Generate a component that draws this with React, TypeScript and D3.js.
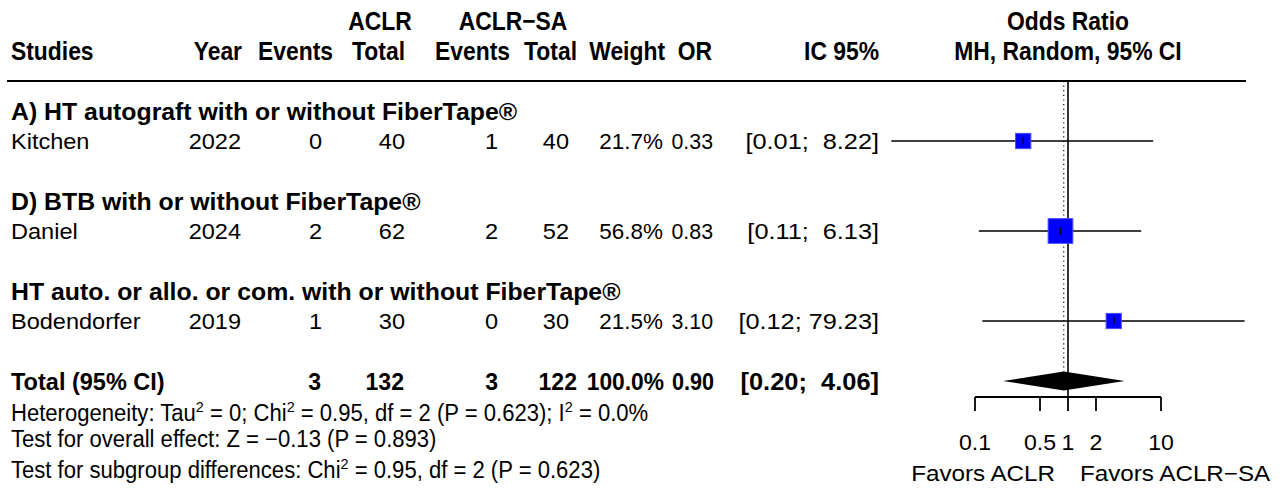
import * as d3 from "d3"

// ---- data ----
const groupLabels = [
  "A) HT autograft with or without FiberTape®",
  "D) BTB with or without FiberTape®",
  "HT auto. or allo. or com. with or without FiberTape®",
]
const studies = ["Kitchen", "Daniel", "Bodendorfer"]
const years = [2022, 2024, 2019]
const eventsACLR = [0, 2, 1]
const totalACLR = [40, 62, 30]
const eventsSA = [1, 2, 0]
const totalSA = [40, 52, 30]
const weights = [21.7, 56.8, 21.5]
const oddsRatios = [0.33, 0.83, 3.1]
const ciLower = [0.0126, 0.11, 0.12]
const ciUpper = [8.22, 6.13, 79.23]

const pooledCounts = [3, 132, 3, 122] // events, total, events, total
const pooledOR = [0.2, 0.9, 4.06] // lower, estimate, upper
const axisTicks = [0.1, 0.5, 1, 2, 10]
const axisLabels = ["Favors ACLR", "Favors ACLR−SA"]

// text segments, second item = superscript
const statLines: [string, boolean][][] = [
  [
    ["Heterogeneity: Tau", false], ["2", true], [" = 0; Chi", false], ["2", true],
    [" = 0.95, df = 2 (P = 0.623); I", false], ["2", true], [" = 0.0%", false],
  ],
  [["Test for overall effect: Z = −0.13 (P = 0.893)", false]],
  [["Test for subgroup differences: Chi", false], ["2", true], [" = 0.95, df = 2 (P = 0.623)", false]],
]

const FONT = "'Liberation Sans', Arial, sans-serif"
const W = 1287
const H = 488

function Txt({ x, y, children, anchor = "start", size = 21, bold = false, sx = 1 }: any) {
  return (
    <text
      transform={`translate(${x},${y}) scale(${sx},1)`}
      textAnchor={anchor}
      fontSize={size}
      fontWeight={bold ? 700 : 400}
      fontFamily={FONT}
      fill="#000"
      style={{ whiteSpace: "pre" }}
    >
      {children}
    </text>
  )
}

const fmtCI = (lo: number, hi: number) => `[${lo.toFixed(2)}; ${hi.toFixed(2).padStart(5, " ")}]`

export default function App() {
  const x = d3.scaleLog().domain([0.1, 10]).range([975, 1161])
  const rowY = d3.scaleLinear().domain([0, 1]).range([111, 141]) // 30px per line
  const side = d3.scaleSqrt().domain([0, 56.8]).range([0, 24.7])

  // column right edges
  const col = { year: 241, ev1: 322, tot1: 405, ev2: 498, tot2: 569, w: 663, or: 713, ci: 879 }
  const hdr = { year: 242, ev1: 333, tot1: 405, ev2: 510, tot2: 577, w: 665, or: 712, ci: 879 }

  const bodySize = 22
  const bodySx = 1.07
  const grpSx = 1.08
  const hdrSize = 26
  const hdrSx = 0.88

  const yTotal = rowY(9)
  const yAxis = 397
  const topRule = 81

  const H1 = (p: any) => <Txt size={hdrSize} sx={hdrSx} bold {...p} />
  const T = (p: any) => <Txt y={yTotal + 9} size={24} bold sx={0.96} anchor="end" {...p} />

  return (
    <svg width={W} height={H} style={{ position: "absolute", left: 0, top: 0, background: "#fff" }}>
      <rect width={W} height={H} fill="#fff" />

      {/* header */}
      <H1 x={380} y={30} anchor="middle">ACLR</H1>
      <H1 x={513} y={30} anchor="middle">ACLR−SA</H1>
      <H1 x={1068} y={30} anchor="middle">Odds Ratio</H1>
      <H1 x={11} y={60}>Studies</H1>
      <H1 x={hdr.year} y={60} anchor="end">Year</H1>
      <H1 x={hdr.ev1} y={60} anchor="end">Events</H1>
      <H1 x={hdr.tot1} y={60} anchor="end">Total</H1>
      <H1 x={hdr.ev2} y={60} anchor="end">Events</H1>
      <H1 x={hdr.tot2} y={60} anchor="end">Total</H1>
      <H1 x={hdr.w} y={60} anchor="end">Weight</H1>
      <H1 x={hdr.or} y={60} anchor="end">OR</H1>
      <H1 x={hdr.ci} y={60} anchor="end">IC 95%</H1>
      <H1 x={1068} y={60} anchor="middle">MH, Random, 95% CI</H1>

      <line x1={7} x2={1246} y1={topRule} y2={topRule} stroke="#000" strokeWidth={1.8} />

      {/* reference lines */}
      <line x1={x(1)} x2={x(1)} y1={topRule} y2={yAxis} stroke="#000" strokeWidth={1.6} />
      <line
        x1={x(pooledOR[1])}
        x2={x(pooledOR[1])}
        y1={topRule}
        y2={yTotal - 9.5}
        stroke="#000"
        strokeWidth={1.2}
        strokeDasharray="1.2,3.4"
      />

      {/* groups and studies */}
      {studies.map((s, i) => {
        const gy = rowY(i * 3)
        const sy = rowY(i * 3 + 1)
        const b = sy + 8
        const sz = side(weights[i])
        const B = (p: any) => <Txt y={b} size={bodySize} sx={bodySx} anchor="end" {...p} />
        return (
          <g key={s}>
            <Txt x={11} y={gy + 8.5} size={23} bold sx={grpSx}>{groupLabels[i]}</Txt>
            <B x={11} anchor="start">{s}</B>
            <B x={col.year}>{years[i]}</B>
            <B x={col.ev1}>{eventsACLR[i]}</B>
            <B x={col.tot1}>{totalACLR[i]}</B>
            <B x={col.ev2}>{eventsSA[i]}</B>
            <B x={col.tot2}>{totalSA[i]}</B>
            <B x={col.w} sx={1.02}>{weights[i].toFixed(1) + "%"}</B>
            <B x={col.or} sx={0.97}>{oddsRatios[i].toFixed(2)}</B>
            <B x={col.ci} sx={1.15}>{fmtCI(ciLower[i], ciUpper[i])}</B>

            <line x1={x(ciLower[i])} x2={x(ciUpper[i])} y1={sy} y2={sy} stroke="#000" strokeWidth={1.6} />
            <rect
              x={x(oddsRatios[i]) - sz / 2}
              y={sy - sz / 2}
              width={sz}
              height={sz}
              fill="#0000ff"
              stroke="#4a4aff"
              strokeWidth={1}
            />
            <line x1={x(oddsRatios[i])} x2={x(oddsRatios[i])} y1={sy - 3.5} y2={sy + 3.5} stroke="#000" strokeWidth={1.5} />
          </g>
        )
      })}

      {/* total row */}
      <Txt x={11} y={yTotal + 9} size={24} bold sx={0.98}>Total (95% CI)</Txt>
      {[321, 404, 498, 577].map((cx, k) => (
        <T key={k} x={cx}>{pooledCounts[k]}</T>
      ))}
      <T x={664} sx={0.95}>100.0%</T>
      <T x={714} sx={0.9}>{pooledOR[1].toFixed(2)}</T>
      <T x={879} sx={1.06}>{fmtCI(pooledOR[0], pooledOR[2])}</T>
      <path
        d={`M${x(pooledOR[0])},${yTotal} L${x(pooledOR[1])},${yTotal - 9.5} L${x(pooledOR[2])},${yTotal} L${x(pooledOR[1])},${yTotal + 9.5} Z`}
        fill="#000"
      />

      {/* stats lines */}
      {statLines.map((segs, li) => (
        <text
          key={li}
          transform={`translate(11,${[421, 447, 478][li]}) scale(0.96,1)`}
          fontSize={23}
          fontFamily={FONT}
          style={{ whiteSpace: "pre" }}
        >
          {segs.map(([t, sup], k) =>
            sup ? (
              <tspan key={k} dy={-9} fontSize={15}>{t}</tspan>
            ) : (
              <tspan key={k} dy={k > 0 && segs[k - 1][1] ? 9 : 0}>{t}</tspan>
            )
          )}
        </text>
      ))}

      {/* axis */}
      <line x1={x(0.1)} x2={x(10)} y1={yAxis} y2={yAxis} stroke="#000" strokeWidth={1.8} />
      {axisTicks.map((t) => (
        <g key={t}>
          <line x1={x(t)} x2={x(t)} y1={yAxis} y2={yAxis + 14} stroke="#000" strokeWidth={1.8} />
          <Txt x={x(t)} y={450} anchor="middle" size={22} sx={1.05}>{String(t)}</Txt>
        </g>
      ))}
      <Txt x={1055} y={481} anchor="end" size={22} sx={1.1}>{axisLabels[0]}</Txt>
      <Txt x={1080} y={481} anchor="start" size={22} sx={1.1}>{axisLabels[1]}</Txt>
    </svg>
  )
}
